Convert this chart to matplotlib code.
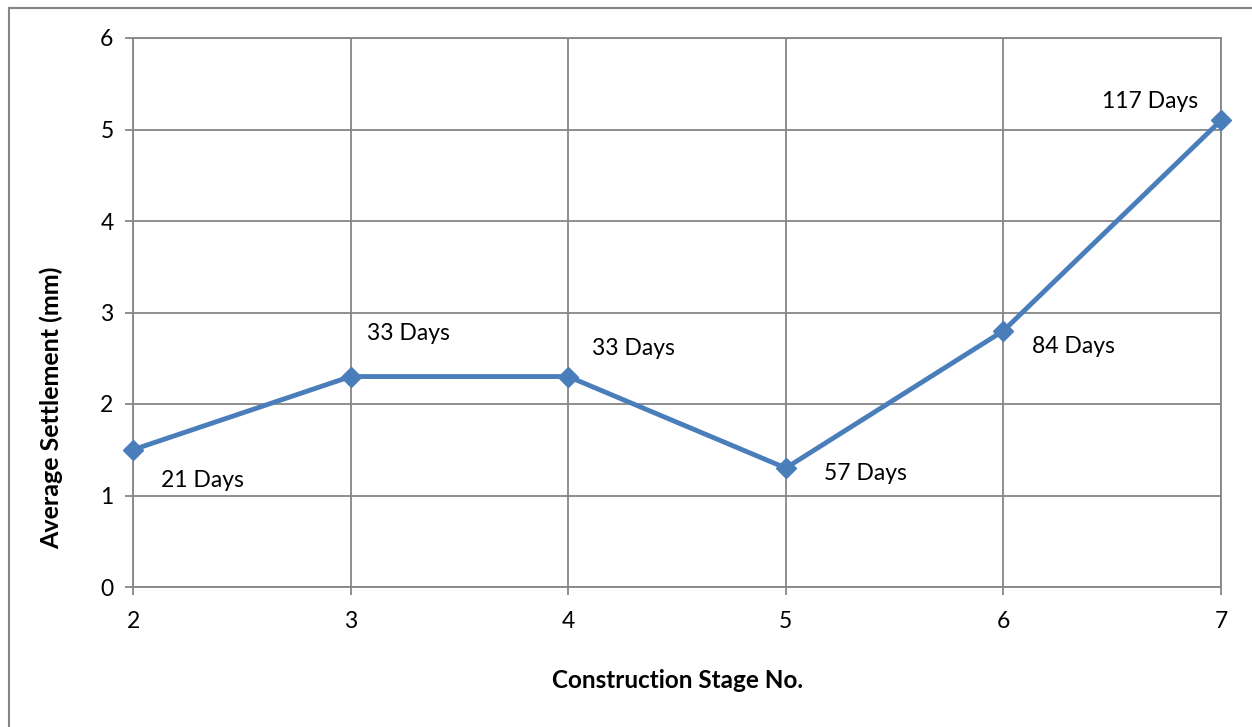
import matplotlib.pyplot as plt

stages = [2, 3, 4, 5, 6, 7]
settlement = [1.5, 2.3, 2.3, 1.3, 2.8, 5.1]
day_labels = ['21 Days', '33 Days', '33 Days', '57 Days', '84 Days', '117 Days']
# label offsets in pixels (dx, dy) from each point, and horizontal alignment
label_offsets = [(28, -31, 'left'), (16, 43, 'left'), (24, 28, 'left'),
                 (38, -5, 'left'), (29, -16, 'left'), (-23, 19, 'right')]

plt.rcParams['font.family'] = ['Lato', 'DejaVu Sans']

fig = plt.figure(figsize=(12.52, 7.27), dpi=100)
W, H = 1252, 727
ax = fig.add_axes([133 / W, 1 - 587 / H, (1221 - 133) / W, (587 - 38) / H])

grid_col = '#868686'
ax.plot(stages, settlement, color='#4A7EBB', lw=3.5, marker='D', ms=10,
        markeredgecolor='#4A7EBB', zorder=3, clip_on=False)

for x, y, lab, (dx, dy, ha) in zip(stages, settlement, day_labels, label_offsets):
    ax.annotate(lab, (x, y), xytext=(dx, dy), textcoords='offset pixels',
                ha=ha, va='center', fontsize=16.5, color='black')

ax.set_xlim(2, 7)
ax.set_ylim(0, 6)
ax.set_xticks(stages)
ax.set_yticks(range(0, 7))
ax.grid(True, color=grid_col, lw=1.3)
for s in ax.spines.values():
    s.set_color(grid_col)
    s.set_linewidth(1.3)
ax.tick_params(axis='both', colors=grid_col, labelcolor='black', labelsize=16.5,
               length=6, width=1.3, direction='out')
ax.tick_params(axis='x', pad=11)
ax.tick_params(axis='y', pad=8)

ax.set_xlabel('Construction Stage No.', fontsize=17.5, fontweight='bold', labelpad=27)
ax.set_ylabel('Average Settlement (mm)', fontsize=18, fontweight='bold')
ax.yaxis.set_label_coords(-0.064, 0.326)

# outer chart border
fig.add_artist(plt.Line2D([9 / W, 9 / W], [0, 1 - 8 / H], color=grid_col, lw=1.5,
                          transform=fig.transFigure))
fig.add_artist(plt.Line2D([9 / W, 1], [1 - 8 / H, 1 - 8 / H], color=grid_col, lw=1.5,
                          transform=fig.transFigure))

fig.savefig('out.png', dpi=100)
